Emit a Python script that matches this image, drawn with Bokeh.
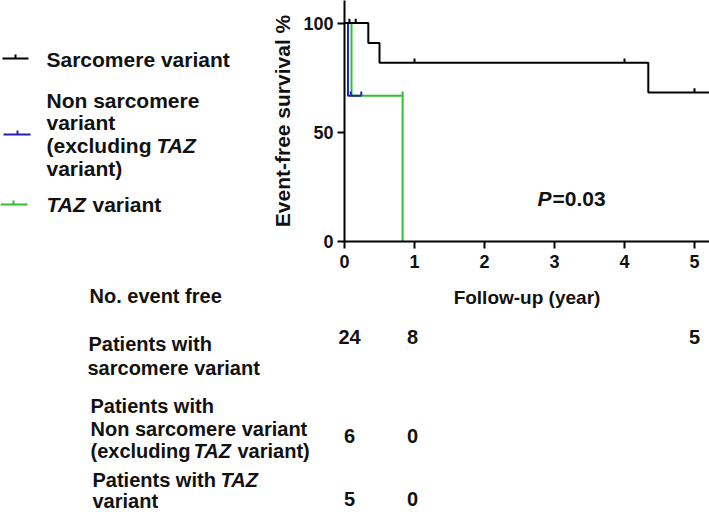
from bokeh.plotting import figure
from bokeh.layouts import column, row
from bokeh.models import Range1d, FixedTicker
from bokeh.core.properties import value
from bokeh.embed import file_html
from bokeh.resources import INLINE

# ---------------- data ----------------
sarc_times = [0.0, 0.34, 0.50, 4.34]
sarc_surv = [100.0, 90.9, 81.8, 68.2]
sarc_end = 5.25
sarc_censor = [0.07, 0.16, 1.0, 4.0, 5.0]

non_times = [0.0, 0.05]
non_surv = [100.0, 66.7]
non_end = 0.24
non_censor = [0.09, 0.24]

taz_times = [0.0, 0.10, 0.83]
taz_surv = [100.0, 66.7, 0.0]
taz_end = 0.83
taz_censor = [0.83]

x_ticks = [0, 1, 2, 3, 4, 5]
y_ticks = [0, 50, 100]

risk_times = [0, 1, 5]
risk_sarc = [24, 8, 5]
risk_non = [6, 0]
risk_taz = [5, 0]

p_value_text = "=0.03"

# ---------------- layout constants ----------------
W, H = 709, 512
TOP_H = 320               # height of the upper row
LEG_W = 250               # width of the legend panel
ORIGIN_X, ORIGIN_Y = 344, 241   # axes origin in page px
PXX = 70.0                # px per year
PXY = 2.184               # px per percent

FONT = "Liberation Sans"
INK = "#111111"
BLACK = "#000000"
BLUE = "#2323b4"
GREEN = "#2ec02e"


def dx(cx):
    return (cx - ORIGIN_X) / PXX


def mid(base, size):
    # vertical centre of a text line from its baseline
    return base - 0.35 * size


def bare(fig):
    fig.outline_line_color = None
    fig.background_fill_color = "white"
    fig.border_fill_color = "white"
    fig.frame_align = False
    return fig


def txt(fig, x, y, s, size, style="bold", align="left", x_offset=0):
    fig.text(x=[x], y=[y], text=[s], text_font=value(FONT),
             text_font_size=value(f"{size}px"), text_font_style=value(style),
             text_color=INK, text_align=value(align),
             text_baseline=value("middle"), x_offset=x_offset)


# ---------------- main Kaplan-Meier plot ----------------
MAIN_W = W - LEG_W
frame_w = W - ORIGIN_X
p = bare(figure(width=MAIN_W, height=TOP_H, output_backend="svg", toolbar_location=None,
                x_range=Range1d(0, frame_w / PXX), y_range=Range1d(0, ORIGIN_Y / PXY),
                min_border_left=ORIGIN_X - LEG_W, min_border_right=0, min_border_top=0,
                min_border_bottom=TOP_H - ORIGIN_Y,
                x_axis_label="Follow-up (year)", y_axis_label="Event-free survival %"))
p.xgrid.visible = False
p.ygrid.visible = False

for ax in (p.xaxis, p.yaxis):
    ax.axis_line_width = 2
    ax.axis_line_color = BLACK
    ax.major_tick_line_width = 2
    ax.major_tick_line_color = BLACK
    ax.major_tick_in = 0
    ax.major_tick_out = 7
    ax.minor_tick_line_color = None
    ax.major_label_text_font = FONT
    ax.major_label_text_font_style = "bold"
    ax.major_label_text_font_size = "18px"
    ax.major_label_text_color = INK
    ax.axis_label_text_font = FONT
    ax.axis_label_text_font_style = "bold"
    ax.axis_label_text_color = INK

p.xaxis.ticker = FixedTicker(ticks=x_ticks)
p.yaxis.ticker = FixedTicker(ticks=y_ticks)
p.xaxis.major_label_standoff = 6
p.yaxis.major_label_standoff = 4
p.xaxis.axis_label_text_font_size = "19px"
p.yaxis.axis_label_text_font_size = "21px"
p.xaxis.axis_label_standoff = 16
p.yaxis.axis_label_standoff = 6


def surv_at(times, surv, t):
    s = surv[0]
    for ti, si in zip(times, surv):
        if ti < t:
            s = si
    return s


def draw_curve(times, surv, end, censor, color):
    xs = list(times) + [end]
    ys = list(surv) + [surv[-1]]
    p.step(xs, ys, mode="after", line_color=color, line_width=2)
    cy = [surv_at(times, surv, t) for t in censor]
    p.segment(x0=censor, y0=cy, x1=censor, y1=[v + 2.0 for v in cy],
              line_color=color, line_width=2)


draw_curve(taz_times, taz_surv, taz_end, taz_censor, GREEN)
draw_curve(non_times, non_surv, non_end, non_censor, BLUE)
draw_curve(sarc_times, sarc_surv, sarc_end, sarc_censor, BLACK)

# P value (positioned in page px converted to data)
PS = 21
py = (ORIGIN_Y - mid(205, PS)) / PXY
txt(p, dx(537), py, "P", PS, "bold italic")
txt(p, dx(552), py, p_value_text, PS)

# ---------------- legend panel (page-pixel coordinates) ----------------
leg = bare(figure(width=LEG_W, height=TOP_H, output_backend="svg", toolbar_location=None,
                  x_range=Range1d(0, LEG_W), y_range=Range1d(TOP_H, 0),
                  x_axis_type=None, y_axis_type=None, min_border=0))
leg.xgrid.visible = False
leg.ygrid.visible = False

legend_rows = [(BLACK, 58, 2, 28, 15), (BLUE, 134, 3, 30, 17), (GREEN, 204, 0, 27, 13)]
for col, ly, x0, x1, tx in legend_rows:
    leg.segment(x0=[x0, tx], y0=[ly, ly], x1=[x1, tx], y1=[ly, ly - 4],
                line_color=col, line_width=2)

LS = 21
txt(leg, 46, mid(66, LS), "Sarcomere variant", LS)
txt(leg, 46, mid(107, LS), "Non sarcomere", LS)
txt(leg, 46, mid(129, LS), "variant", LS)
txt(leg, 46, mid(152, LS), "(excluding", LS)
txt(leg, 156, mid(152, LS), "TAZ", LS, "bold italic")
txt(leg, 46, mid(175, LS), "variant)", LS)
txt(leg, 46, mid(211, LS), "TAZ", LS, "bold italic")
txt(leg, 92, mid(211, LS), "variant", LS)

TS = 20
txt(leg, 89, mid(302, TS), "No. event free", TS)

# ---------------- number-at-risk table ----------------
tab = bare(figure(width=W, height=H - TOP_H, output_backend="svg", toolbar_location=None,
                  x_range=Range1d(dx(0), dx(W)), y_range=Range1d(H, TOP_H),
                  x_axis_type=None, y_axis_type=None, min_border=0))
tab.xgrid.visible = False
tab.ygrid.visible = False

txt(tab, dx(88), mid(350, TS), "Patients with", TS)
txt(tab, dx(87), mid(374, TS), "sarcomere variant", TS)
txt(tab, dx(90), mid(412, TS), "Patients with", TS)
txt(tab, dx(90), mid(435, TS), "Non sarcomere variant", TS)
txt(tab, dx(90), mid(457, TS), "(excluding", TS)
txt(tab, dx(193), mid(457, TS), "TAZ", TS, "bold italic")
txt(tab, dx(237), mid(457, TS), "variant)", TS)
txt(tab, dx(92), mid(486, TS), "Patients with", TS)
txt(tab, dx(220), mid(486, TS), "TAZ", TS, "bold italic")
txt(tab, dx(92), mid(507, TS), "variant", TS)

col_offsets = [5, -2, 0]
for counts, base in ((risk_sarc, 343), (risk_non, 442), (risk_taz, 505)):
    n = len(counts)
    tab.text(x=risk_times[:n], y=[mid(base, TS)] * n, text=[str(c) for c in counts],
             x_offset=col_offsets[:n], text_font=value(FONT),
             text_font_size=value(f"{TS}px"), text_font_style=value("bold"),
             text_color=INK, text_align=value("center"),
             text_baseline=value("middle"))

layout = column(row(leg, p, spacing=0), tab, spacing=0)
open("out.html", "w").write(file_html(layout, INLINE))
